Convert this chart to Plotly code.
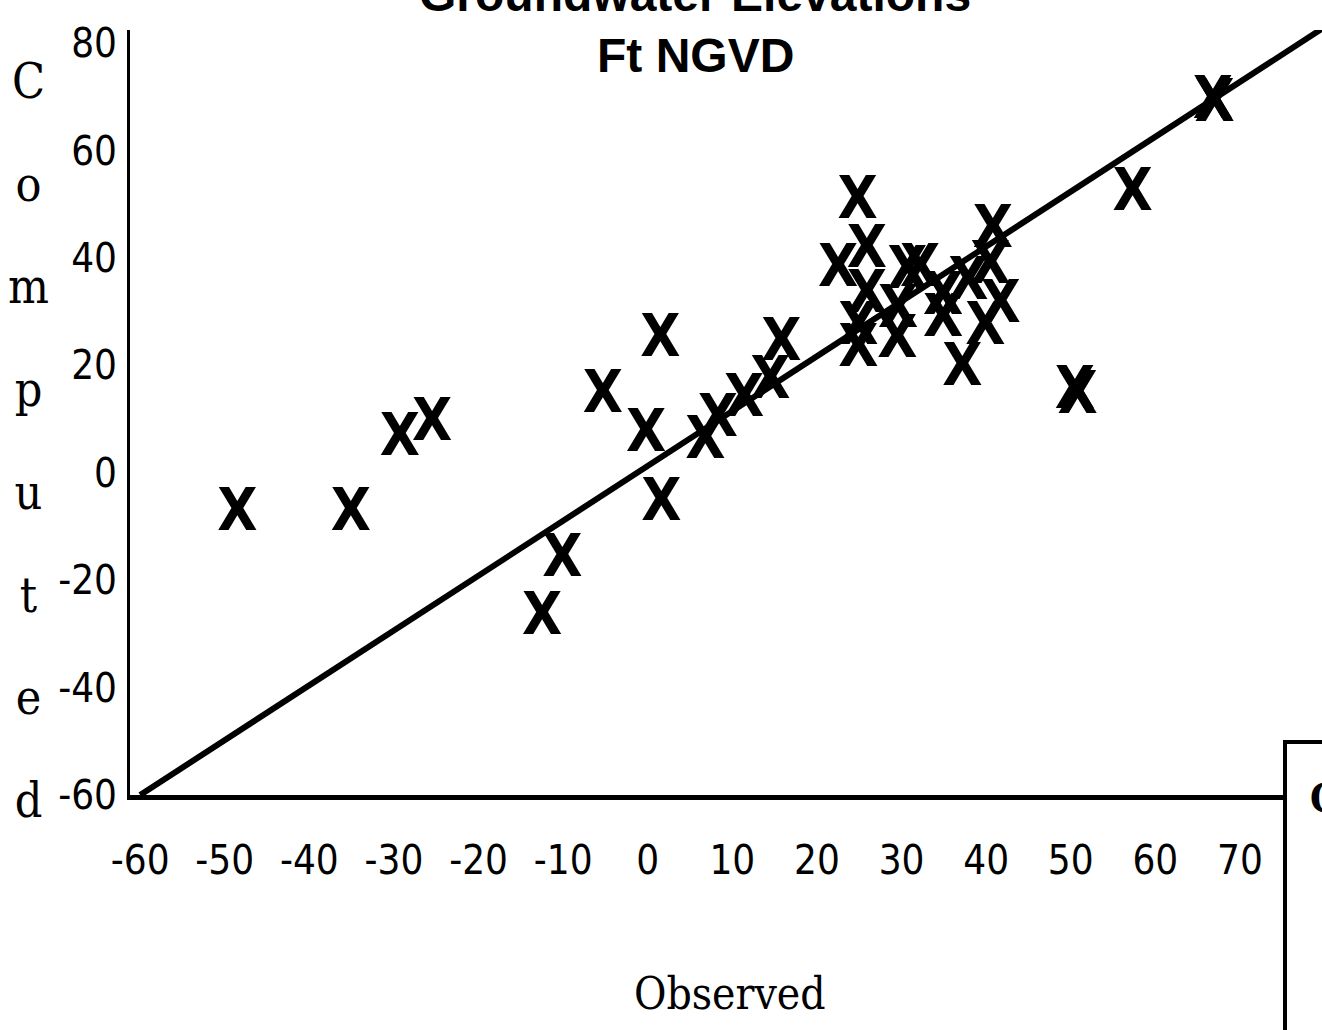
import plotly.graph_objects as go

# ---- data ----
observed = [-48.5, -35.1, -29.3, -25.5, -12.5, -10.1, -5.3, 1.5, -0.2, 1.6,
            6.8, 8.3, 11.4, 14.5, 15.8,
            24.8, 22.5, 25.9, 25.9, 24.9, 24.9,
            30.7, 29.6, 29.5, 32.2, 34.9, 34.9, 37.9,
            40.8, 40.5, 41.7, 39.9, 37.2,
            50.5, 50.8, 57.3, 66.8, 67.0]
computed = [-8.0, -8.0, 6.1, 8.9, -27.4, -16.6, 14.1, 24.4, 6.7, -6.0,
            5.5, 9.5, 13.2, 16.7, 23.8,
            50.2, 37.4, 41.1, 32.7, 26.6, 22.5,
            37.2, 29.8, 24.2, 37.4, 32.2, 28.1, 35.0,
            44.8, 38.1, 30.7, 26.6, 19.1,
            14.8, 13.8, 51.7, 68.7, 68.2]
line_x = [-60, 80]
line_y = [-60, 83]
x_ticks = [-60, -50, -40, -30, -20, -10, 0, 10, 20, 30, 40, 50, 60, 70]
y_ticks = [-60, -40, -20, 0, 20, 40, 60, 80]
title_lines = ["Groundwater Elevations", "Ft NGVD"]
x_title = "Observed"
y_title = "Computed"
legend_text = "Computed"

NARROW = "Liberation Sans Narrow, DejaVu Sans Condensed, Arial Narrow, sans-serif"
SERIF = "DejaVu Serif Condensed, DejaVu Serif, serif"

fig = go.Figure()
fig.add_trace(go.Scatter(x=line_x, y=line_y, mode="lines",
                         line=dict(color="black", width=6), showlegend=False,
                         hoverinfo="skip"))
fig.add_trace(go.Scatter(x=observed, y=computed, mode="text", text=["X"] * len(observed),
                         textposition="middle center",
                         textfont=dict(family=NARROW, size=58, color="black", weight="bold"),
                         showlegend=False))

fig.update_layout(
    width=1322, height=1030, autosize=False,
    margin=dict(l=130, r=0, t=30, b=235),
    paper_bgcolor="white", plot_bgcolor="white",
    showlegend=False,
    xaxis=dict(range=[-61.2, 79.7], tickmode="array", tickvals=x_ticks,
               ticktext=[str(v) for v in x_ticks], showgrid=False, zeroline=False,
               showline=True, linecolor="black", linewidth=5, ticks="",
               ticklabelstandoff=26,
               tickfont=dict(family=NARROW, size=40, color="black")),
    yaxis=dict(range=[-60, 82.46], tickmode="array", tickvals=y_ticks,
               ticktext=[str(v) for v in y_ticks], showgrid=False, zeroline=False,
               showline=True, linecolor="black", linewidth=3, ticks="",
               ticklabelstandoff=2,
               tickfont=dict(family=NARROW, size=40, color="black")),
)

def px_x(p):
    return (p - 130) / 1192.0

def px_y(p):
    return (795 - p) / 765.0

# title
fig.add_annotation(text="<b>%s</b>" % title_lines[0], x=px_x(695), y=px_y(-5),
                   xref="paper", yref="paper", showarrow=False, xanchor="center", yanchor="middle",
                   font=dict(family="Liberation Sans, Arial, sans-serif", size=48, color="black"))
fig.add_annotation(text="<b>%s</b>" % title_lines[1], x=px_x(695), y=px_y(55),
                   xref="paper", yref="paper", showarrow=False, xanchor="center", yanchor="middle",
                   font=dict(family="Liberation Sans, Arial, sans-serif", size=48, color="black"))

# x axis title
fig.add_annotation(text=x_title, x=px_x(730), y=px_y(993), xref="paper", yref="paper",
                   showarrow=False, xanchor="center", yanchor="middle",
                   font=dict(family=SERIF, size=44, color="black"))

# y axis title: letters stacked vertically
stack = "<br>".join('<span style="font-size:48px">%s</span>' % ch for ch in y_title)
fig.add_annotation(text=stack, x=px_x(28), y=px_y(440), xref="paper", yref="paper",
                   showarrow=False, xanchor="center", yanchor="middle",
                   font=dict(family=SERIF, size=79, color="black"))

# legend box (cut off at the right edge)
fig.add_shape(type="rect", xref="paper", yref="paper",
              x0=px_x(1285), x1=px_x(1420), y0=px_y(1100), y1=px_y(742),
              line=dict(color="black", width=4), fillcolor="white", layer="above")
fig.add_annotation(text="<b>%s</b>" % legend_text, x=px_x(1308), y=px_y(797),
                   xref="paper", yref="paper", showarrow=False, xanchor="left", yanchor="middle",
                   font=dict(family=SERIF, size=40, color="black"))

fig.write_html("out.html", config={"displayModeBar": False},
               post_script="document.body.style.margin='0px';")
